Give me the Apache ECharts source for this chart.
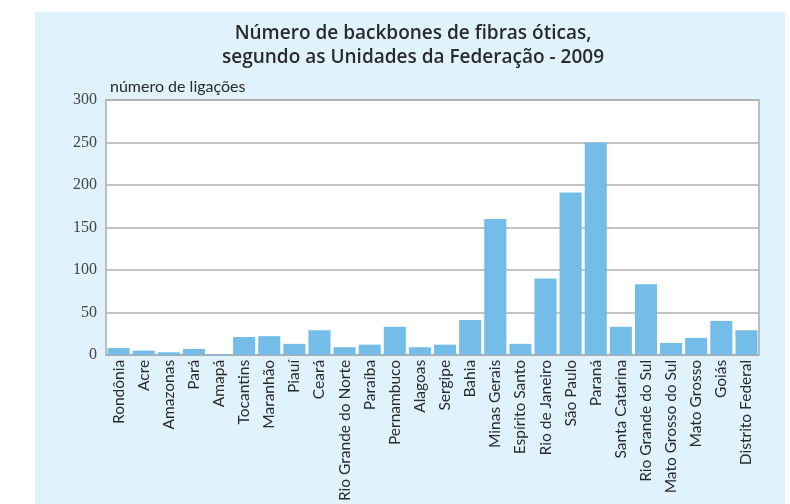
<!DOCTYPE html>
<html>
<head>
<meta charset="utf-8">
<script src="https://cdn.jsdelivr.net/npm/echarts@6/dist/echarts.min.js"></script>
<style>
html,body{margin:0;padding:0;background:#fff;}
#c{width:790px;height:504px;}
</style>
</head>
<body>
<div id="c"></div>
<script>
const categories = ["Rondônia","Acre","Amazonas","Pará","Amapá","Tocantins","Maranhão","Piauí","Ceará","Rio Grande do Norte","Paraíba","Pernambuco","Alagoas","Sergipe","Bahia","Minas Gerais","Espírito Santo","Rio de Janeiro","São Paulo","Paraná","Santa Catarina","Rio Grande do Sul","Mato Grosso do Sul","Mato Grosso","Goiás","Distrito Federal"];
const values = [8,5,3,7,1,21,22,13,29,9,12,33,9,12,41,160,13,90,191,250,33,83,14,20,40,29];
const yTicks = [0,50,100,150,200,250,300];

const chart = echarts.init(document.getElementById('c'));
chart.setOption({
  animation:false,
  backgroundColor:'#ffffff',
  graphic:[{type:'rect',left:35,top:12,shape:{width:750,height:492},style:{fill:'#e0f2fc'},z:-10,silent:true}],
  title:{
    text:'Número de backbones de fibras óticas,\nsegundo as Unidades da Federação - 2009',
    left:408, top:17, textAlign:'center',
    textStyle:{fontFamily:'Open Sans',fontSize:19,fontWeight:600,color:'#2a2a2a',lineHeight:24}
  },
  grid:{left:106,top:100,right:31,bottom:149,show:true,borderColor:'#aaaaaa',borderWidth:1.5,backgroundColor:'#ffffff'},
  xAxis:{
    type:'category',data:categories,
    axisTick:{show:false},
    axisLine:{lineStyle:{color:'#aaaaaa',width:1.5}},
    axisLabel:{rotate:90,interval:0,fontFamily:'Lato',fontSize:15.5,color:'#2a2a2a',margin:5}
  },
  yAxis:{
    type:'value',min:0,max:300,interval:50,
    name:'número de ligações',nameLocation:'end',nameGap:5,
    nameTextStyle:{fontFamily:'Lato',fontSize:16,color:'#2a2a2a',align:'left',padding:[0,0,0,4]},
    axisLine:{show:false},axisTick:{show:false},
    axisLabel:{fontFamily:'Liberation Serif',fontSize:16,color:'#444',margin:9,
      formatter:v=>yTicks.includes(v)?String(v):''},
    splitLine:{lineStyle:{color:'#b0b0b0',width:1.5}}
  },
  series:[{
    type:'bar',data:values,barCategoryGap:'12%',
    itemStyle:{color:'#74bde9'}
  }]
});
</script>
</body>
</html>
